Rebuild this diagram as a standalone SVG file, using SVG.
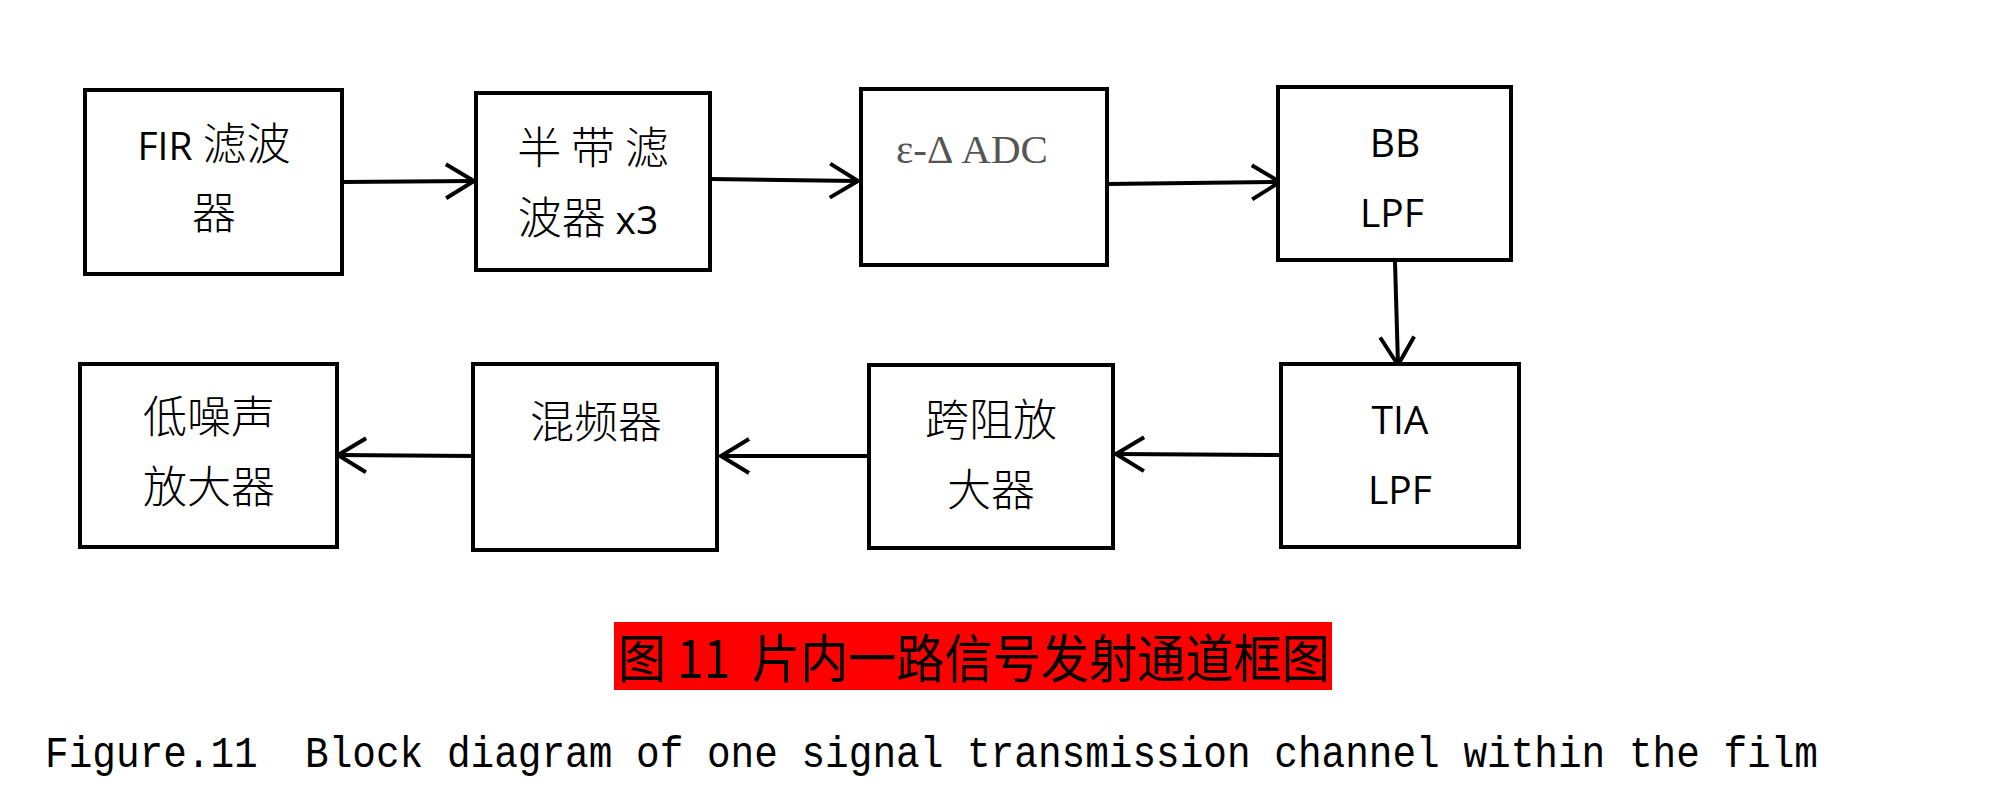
<svg xmlns="http://www.w3.org/2000/svg" width="2000" height="787" viewBox="0 0 2000 787">
<style>
.box{fill:#fff;stroke:#000;stroke-width:4}
.lbl{font-family:"Open Sans","Noto Sans CJK SC",sans-serif;font-size:39px;fill:#000;text-anchor:middle}
.cjk{font-family:"Noto Sans CJK SC",sans-serif;font-size:44px;fill:#000;text-anchor:middle;font-weight:300}
.con{fill:none;stroke:#000;stroke-width:4}
</style>
<defs>
<marker id="ah" markerUnits="userSpaceOnUse" markerWidth="40" markerHeight="40" viewBox="-34 -20 40 40" refX="0" refY="0" orient="auto" overflow="visible">
<path d="M-28,-17 L0,0 L-28,17" fill="none" stroke="#000" stroke-width="4"/>
</marker>
</defs>
<rect width="2000" height="787" fill="#fff"/>
<g id="connectors">
<line class="con" x1="342" y1="182" x2="474" y2="181" marker-end="url(#ah)"/>
<line class="con" x1="710" y1="179" x2="858" y2="181" marker-end="url(#ah)"/>
<line class="con" x1="1107" y1="184" x2="1280" y2="182" marker-end="url(#ah)"/>
<line class="con" x1="1395" y1="262" x2="1398" y2="365" marker-end="url(#ah)"/>
<line class="con" x1="1281" y1="455" x2="1116" y2="454" marker-end="url(#ah)"/>
<line class="con" x1="869" y1="456" x2="721" y2="456" marker-end="url(#ah)"/>
<line class="con" x1="473" y1="456" x2="338" y2="455" marker-end="url(#ah)"/>
</g>
<g id="fir">
<rect class="box" x="85" y="90" width="257" height="184"/>
<text class="lbl" x="214" y="160">FIR <tspan style="font-family:'Noto Sans CJK SC',sans-serif;font-size:44px;font-weight:300">滤波</tspan></text>
<text class="cjk" x="214" y="229">器</text>
</g>
<g id="halfband">
<rect class="box" x="476" y="93" width="234" height="177"/>
<text class="cjk" x="593" y="164" xml:space="preserve" style="white-space:pre">半 带 滤</text>
<text class="cjk" x="588" y="234">波器 <tspan style="font-family:'Open Sans',sans-serif;font-weight:400;font-size:39px">x3</tspan></text>
</g>
<g id="adc">
<rect class="box" x="861" y="89" width="246" height="176"/>
<text x="972" y="163" style="font-family:'Liberation Serif',serif;font-size:41px;fill:#555;text-anchor:middle">ε-Δ ADC</text>
</g>
<g id="bblpf">
<rect class="box" x="1278" y="87" width="233" height="173"/>
<text class="lbl" x="1395" y="157">BB</text>
<text class="lbl" x="1392" y="227">LPF</text>
</g>
<g id="tialpf">
<rect class="box" x="1281" y="364" width="238" height="183"/>
<text class="lbl" x="1400" y="434">TIA</text>
<text class="lbl" x="1400" y="504">LPF</text>
</g>
<g id="tia">
<rect class="box" x="869" y="365" width="244" height="183"/>
<text class="cjk" x="991" y="436">跨阻放</text>
<text class="cjk" x="991" y="506">大器</text>
</g>
<g id="mixer">
<rect class="box" x="473" y="364" width="244" height="186"/>
<text class="cjk" x="596" y="438">混频器</text>
</g>
<g id="lna">
<rect class="box" x="80" y="364" width="257" height="183"/>
<text class="cjk" x="209" y="433">低噪声</text>
<text class="cjk" x="209" y="503">放大器</text>
</g>
<g id="caption">
<rect x="614" y="622" width="718" height="68" fill="#ff0000"/>
<text x="618" y="678" textLength="712" lengthAdjust="spacingAndGlyphs" xml:space="preserve" style="font-family:'Noto Sans CJK SC',sans-serif;font-size:52px;fill:#000;white-space:pre">图 11  片内一路信号发射通道框图</text>
<text x="45" y="767" textLength="1773" lengthAdjust="spacingAndGlyphs" style="font-family:'Liberation Mono',monospace;font-size:44px;fill:#000;white-space:pre" xml:space="preserve">Figure.11  Block diagram of one signal transmission channel within the film</text>
</g>
</svg>
